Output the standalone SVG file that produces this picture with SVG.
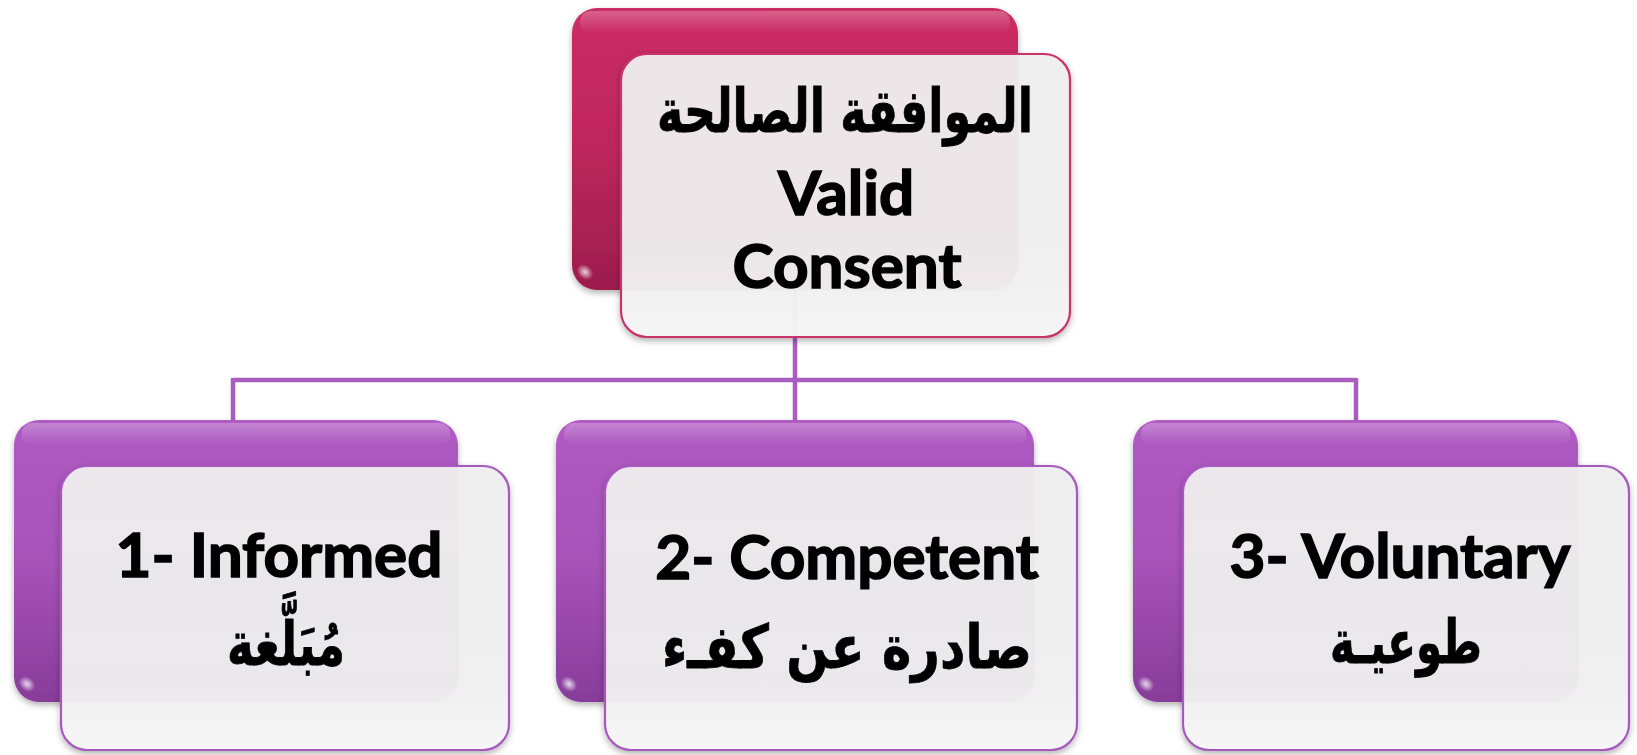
<svg xmlns="http://www.w3.org/2000/svg" width="1637" height="755" viewBox="0 0 1637 755">
<defs>
<linearGradient id="gCrim" x1="0" y1="0" x2="0" y2="1">
<stop offset="0" stop-color="#CC2D64"/>
<stop offset="0.5" stop-color="#BD275B"/>
<stop offset="1" stop-color="#9B1D4C"/>
</linearGradient>
<linearGradient id="gPurp" x1="0" y1="0" x2="0" y2="1">
<stop offset="0" stop-color="#B05BC4"/>
<stop offset="0.5" stop-color="#A752B8"/>
<stop offset="1" stop-color="#873D99"/>
</linearGradient>
<linearGradient id="gHi" x1="0" y1="0" x2="0" y2="1">
<stop offset="0" stop-color="#FFFFFF" stop-opacity="0.25"/>
<stop offset="1" stop-color="#FFFFFF" stop-opacity="0"/>
</linearGradient>
<linearGradient id="gFront" x1="0" y1="0" x2="0" y2="1">
<stop offset="0" stop-color="#EFEFEF"/>
<stop offset="0.75" stop-color="#F1F1F1"/>
<stop offset="1" stop-color="#F7F7F7"/>
</linearGradient>
<radialGradient id="gGlare" cx="0.5" cy="0.5" r="0.5">
<stop offset="0" stop-color="#FFFFFF" stop-opacity="0.8"/>
<stop offset="1" stop-color="#FFFFFF" stop-opacity="0"/>
</radialGradient>
<filter id="sh" x="-5%" y="-5%" width="110%" height="115%">
<feDropShadow dx="0" dy="3" stdDeviation="3" flood-color="#000" flood-opacity="0.3"/>
</filter>
</defs>
<style>
.backC{fill:url(#gCrim);filter:url(#sh)}
.backP{fill:url(#gPurp);filter:url(#sh)}
.hi{fill:url(#gHi)}
.glare{fill:url(#gGlare)}
.front{fill:url(#gFront);fill-opacity:0.945;stroke-width:2.2;filter:url(#sh)}
.frontC{stroke:#C9306A}
.frontP{stroke:#A758BD}
.conn{fill:none;stroke:#A95DC0;stroke-width:4.5}
.en{font-family:Lato,"Open Sans",sans-serif;font-weight:bold;font-size:62px;fill:#000;stroke:#000;stroke-width:1.6;text-anchor:middle}
.ar{font-family:"DejaVu Sans",sans-serif;font-weight:bold;font-size:60px;fill:#000;stroke:#000;stroke-width:0.8;text-anchor:middle}
</style>
<g id="connectors">
<path class="conn" d="M795,200 V380 M233,380 H1356 M233,378 V422 M795,380 V422 M1356,378 V422"/>
</g>
<g id="node-valid-consent">
<rect class="backC" x="572" y="8" width="446" height="282" rx="25"/>
<rect class="hi" x="580" y="11" width="430" height="22" rx="10"/>
<ellipse class="glare" cx="585" cy="272" rx="9" ry="7" transform="rotate(40 585 272)"/>
<rect class="front frontC" x="621" y="54" width="449" height="283" rx="26"/>
<text class="ar" x="845" y="132" direction="rtl" textLength="376" lengthAdjust="spacingAndGlyphs">الموافقة الصالحة</text>
<text class="en" x="846" y="215">Valid</text>
<text class="en" x="847" y="288">Consent</text>
</g>
<g id="node-informed">
<rect class="backP" x="14" y="420" width="444" height="282" rx="25"/>
<rect class="hi" x="22" y="423" width="428" height="22" rx="10"/>
<ellipse class="glare" cx="27" cy="684" rx="9" ry="7" transform="rotate(40 27 684)"/>
<rect class="front frontP" x="61" y="466" width="448" height="284" rx="26"/>
<text class="en" x="279" y="577">1- Informed</text>
<text class="ar" x="286" y="665" direction="rtl" textLength="118" lengthAdjust="spacingAndGlyphs">مُبَلَّغة</text>
</g>
<g id="node-competent">
<rect class="backP" x="556" y="420" width="478" height="282" rx="25"/>
<rect class="hi" x="564" y="423" width="462" height="22" rx="10"/>
<ellipse class="glare" cx="569" cy="684" rx="9" ry="7" transform="rotate(40 569 684)"/>
<rect class="front frontP" x="605" y="466" width="472" height="284" rx="26"/>
<text class="en" x="847" y="579">2- Competent</text>
<text class="ar" x="847" y="668" direction="rtl" textLength="370" lengthAdjust="spacingAndGlyphs">صادرة عن كفـء</text>
</g>
<g id="node-voluntary">
<rect class="backP" x="1133" y="420" width="445" height="282" rx="25"/>
<rect class="hi" x="1141" y="423" width="429" height="22" rx="10"/>
<ellipse class="glare" cx="1146" cy="684" rx="9" ry="7" transform="rotate(40 1146 684)"/>
<rect class="front frontP" x="1183" y="466" width="446" height="284" rx="26"/>
<text class="en" x="1400" y="578">3- Voluntary</text>
<text class="ar" x="1406" y="663" direction="rtl" textLength="152" lengthAdjust="spacingAndGlyphs">طوعيـة</text>
</g>
</svg>
